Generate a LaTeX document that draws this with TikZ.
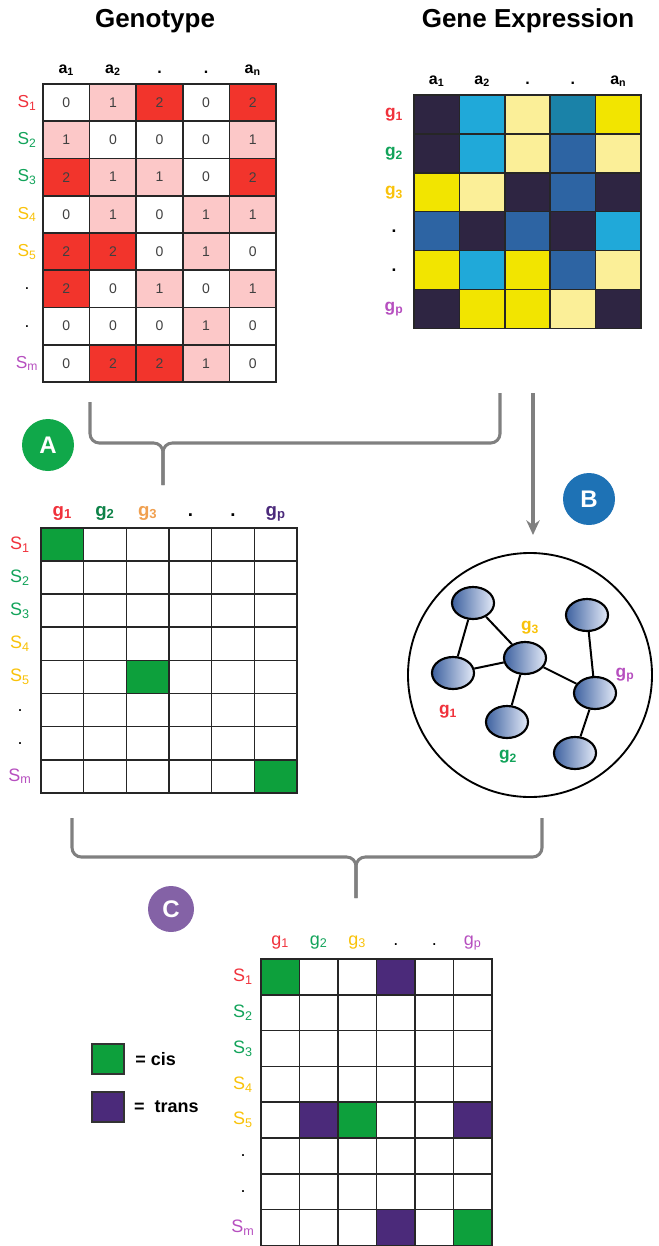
\documentclass[tikz,border=0pt]{standalone}
\usepackage{fontspec}
\setmainfont{Liberation Sans}
\usepackage{tikz}
\usetikzlibrary{arrows.meta, positioning, shapes.geometric}

\definecolor{gtpink}{RGB}{252,200,200}
\definecolor{gtred}{RGB}{242,52,44}
\definecolor{exK}{RGB}{46,37,66}
\definecolor{exL}{RGB}{32,169,217}
\definecolor{exP}{RGB}{251,239,152}
\definecolor{exY}{RGB}{242,229,0}
\definecolor{exT}{RGB}{26,130,168}
\definecolor{exM}{RGB}{45,100,163}
\definecolor{labred}{RGB}{240,50,60}
\definecolor{labgreen}{RGB}{18,163,90}
\definecolor{labyellow}{RGB}{249,194,10}
\definecolor{labpurple}{RGB}{182,79,191}
\definecolor{laborange}{RGB}{240,160,80}
\definecolor{labdark}{RGB}{75,42,123}
\definecolor{cisgreen}{RGB}{13,160,60}
\definecolor{transpurple}{RGB}{75,42,122}
\definecolor{badgeA}{RGB}{16,168,74}
\definecolor{badgeB}{RGB}{30,114,181}
\definecolor{badgeC}{RGB}{132,98,166}
\definecolor{bracegray}{RGB}{128,128,128}
\definecolor{nodeblue}{RGB}{62,98,160}
\definecolor{nodelight}{RGB}{228,234,248}

\newcommand{\sublab}[2]{#1\textsubscript{#2}}

\tikzset{
  cell/.style={draw=black!85, line width=1.2pt, inner sep=0pt, text=black!75,
    font=\fontsize{10.5}{12}\selectfont},
  gtcell/.style={cell, minimum width=34.95pt, minimum height=27.94pt},
  gt0/.style={gtcell, fill=white},
  gt1/.style={gtcell, fill=gtpink},
  gt2/.style={gtcell, fill=gtred},
  excell/.style={cell, minimum width=34.05pt, minimum height=29.2pt},
  acell/.style={cell, minimum width=32pt, minimum height=24.8pt, fill=white},
  ccell/.style={cell, minimum width=28.9pt, minimum height=26.85pt, fill=white},
  title/.style={anchor=base, font=\bfseries\fontsize{19.5}{22}\selectfont},
  colhead/.style={anchor=base, inner sep=0pt},
  rowhead/.style={inner sep=0pt},
  badge/.style={circle, minimum size=39pt, inner sep=0pt, text=white,
    font=\bfseries\fontsize{18}{18}\selectfont},
  brace/.style={draw=bracegray, line width=2.3pt, rounded corners=7pt},
  flow/.style={draw=bracegray, line width=2.3pt, -{Stealth[length=11pt,width=10pt]}},
  netring/.style={circle, draw, line width=1.4pt, minimum size=183pt, inner sep=0pt},
  gene/.style={ellipse, draw, line width=1.6pt, minimum width=31.5pt, minimum height=24pt,
    left color=nodeblue, right color=nodelight, inner sep=0pt},
  link/.style={line width=1.5pt},
  legsq/.style={draw=black!80, line width=0.8pt, minimum width=24pt, minimum height=22.5pt, inner sep=0pt},
  legtext/.style={font=\bfseries\fontsize{13.5}{15}\selectfont, inner sep=0pt}
}

\begin{document}
\begin{tikzpicture}[x=0.75pt, y=-0.75pt]
  \useasboundingbox (0,0) rectangle (659,1246);

  % Titles:
  \node[title] (t-gt) at (155,27) {Genotype};
  \node[title] (t-ex) at (528,27) {Gene Expression};

  % Genotype matrix:
  \foreach \r/\vals in {1/{0,1,2,0,2}, 2/{1,0,0,0,1}, 3/{2,1,1,0,2}, 4/{0,1,0,1,1},
                        5/{2,2,0,1,0}, 6/{2,0,1,0,1}, 7/{0,0,0,1,0}, 8/{0,2,2,1,0}}
    \foreach \v [count=\c] in \vals
      \node[gt\v] (gt-\r-\c) at ({43+46.6*(\c-0.5)}, {84+37.25*(\r-0.5)}) {\v};
  \foreach \t [count=\c] in {\sublab{a}{1}, \sublab{a}{2}, ., ., \sublab{a}{n}}
    \node[colhead, font=\bfseries\fontsize{12}{14}\selectfont] (gt-h\c) at ({43+46.6*(\c-0.5)}, 73) {\t};
  \foreach \t/\col [count=\r] in {\sublab{S}{1}/labred, \sublab{S}{2}/labgreen, \sublab{S}{3}/labgreen,
                                  \sublab{S}{4}/labyellow, \sublab{S}{5}/labyellow, ./black, ./black,
                                  \sublab{S}{m}/labpurple}
    \node[rowhead, text=\col, font=\fontsize{13}{14}\selectfont] (gt-s\r) at (27, {84+37.25*(\r-0.5)}) {\t};

  % Gene expression matrix:
  \foreach \r/\vals in {1/{K,L,P,T,Y}, 2/{K,L,P,M,P}, 3/{Y,P,K,M,K},
                        4/{M,K,M,K,L}, 5/{Y,L,Y,M,P}, 6/{K,Y,Y,P,K}}
    \foreach \v [count=\c] in \vals
      \node[excell, fill=ex\v] (ex-\r-\c) at ({414+45.4*(\c-0.5)}, {95+38.9*(\r-0.5)}) {};
  \foreach \t [count=\c] in {\sublab{a}{1}, \sublab{a}{2}, ., ., \sublab{a}{n}}
    \node[colhead, font=\bfseries\fontsize{12}{14}\selectfont] (ex-h\c) at ({414+45.4*(\c-0.5)}, 84) {\t};
  \foreach \t/\col [count=\r] in {\sublab{g}{1}/labred, \sublab{g}{2}/labgreen, \sublab{g}{3}/labyellow,
                                  ./black, ./black, \sublab{g}{p}/labpurple}
    \node[rowhead, text=\col, font=\bfseries\fontsize{13}{14}\selectfont] (ex-g\r) at (394, {95+38.9*(\r-0.5)}) {\t};

  % Brace A and arrow B:
  \coordinate (brA-l) at (90,402);
  \coordinate (brA-r) at (500,393);
  \coordinate (brA-m) at (163,443);
  \coordinate (brA-tip) at (163,485);
  \draw[brace] (brA-l) |- (brA-m) -- (brA-tip);
  \draw[brace] (brA-r) |- (brA-m) -- (brA-tip);
  \coordinate (ex-out) at (533,393);
  \coordinate (net-in) at (533,535);
  \draw[flow] (ex-out) -- (net-in);
  \node[badge, fill=badgeA] (bA) at (48,445) {A};
  \node[badge, fill=badgeB] (bB) at (589,499) {B};

  % Matrix A (cis):
  \foreach \r in {1,...,8}
    \foreach \c in {1,...,6}
      \node[acell] (a-\r-\c) at ({41+42.67*(\c-0.5)}, {528+33.1*(\r-0.5)}) {};
  \node[acell, fill=cisgreen] (a-cis1) at (a-1-1) {};
  \node[acell, fill=cisgreen] (a-cis2) at (a-5-3) {};
  \node[acell, fill=cisgreen] (a-cis3) at (a-8-6) {};
  \foreach \t/\col [count=\c] in {\sublab{g}{1}/labred, \sublab{g}{2}/labgreen!80!black, \sublab{g}{3}/laborange,
                                  ./black, ./black, \sublab{g}{p}/labdark}
    \node[colhead, text=\col, font=\bfseries\fontsize{14}{16}\selectfont] (a-h\c) at ({41+42.67*(\c-0.5)}, 516) {\t};
  \foreach \t/\col [count=\r] in {\sublab{S}{1}/labred, \sublab{S}{2}/labgreen, \sublab{S}{3}/labgreen,
                                  \sublab{S}{4}/labyellow, \sublab{S}{5}/labyellow, ./black, ./black,
                                  \sublab{S}{m}/labpurple}
    \node[rowhead, text=\col, font=\fontsize{13.5}{15}\selectfont] (a-s\r) at (20, {528+33.1*(\r-0.5)}) {\t};

  % Network:
  \node[netring] (net) at (530,675) {};
  \node[gene] (n1) at (473,603) {};
  \node[gene] (n2) at (453,673) {};
  \node[gene] (n3) at (525,658) {};
  \node[gene] (n4) at (507,722) {};
  \node[gene] (n5) at (587,615) {};
  \node[gene] (n6) at (595,693) {};
  \node[gene] (n7) at (575,753) {};
  \draw[link] (n1) -- (n2);
  \draw[link] (n1) -- (n3);
  \draw[link] (n2) -- (n3);
  \draw[link] (n3) -- (n4);
  \draw[link] (n3) -- (n6);
  \draw[link] (n5) -- (n6);
  \draw[link] (n6) -- (n7);
  \node[text=labred, font=\bfseries\fontsize{13}{14}\selectfont] (l-g1) at (448,712) {\sublab{g}{1}};
  \node[text=labgreen, font=\bfseries\fontsize{13}{14}\selectfont] (l-g2) at (508,757) {\sublab{g}{2}};
  \node[text=labyellow, font=\bfseries\fontsize{13}{14}\selectfont] (l-g3) at (530,628) {\sublab{g}{3}};
  \node[text=labpurple, font=\bfseries\fontsize{13}{14}\selectfont] (l-gp) at (625,675) {\sublab{g}{p}};

  % Brace C:
  \coordinate (brC-l) at (72,818);
  \coordinate (brC-r) at (542,818);
  \coordinate (brC-m) at (356,857);
  \coordinate (brC-tip) at (356,898);
  \draw[brace] (brC-l) |- (brC-m) -- (brC-tip);
  \draw[brace] (brC-r) |- (brC-m) -- (brC-tip);
  \node[badge, fill=badgeC, minimum size=34.5pt] (bC) at (171,909) {C};

  % Matrix C (cis and trans):
  \foreach \r in {1,...,8}
    \foreach \c in {1,...,6}
      \node[ccell] (c-\r-\c) at ({261+38.5*(\c-0.5)}, {959+35.8*(\r-0.5)}) {};
  \node[ccell, fill=cisgreen] (c-cis1) at (c-1-1) {};
  \node[ccell, fill=cisgreen] (c-cis2) at (c-5-3) {};
  \node[ccell, fill=cisgreen] (c-cis3) at (c-8-6) {};
  \node[ccell, fill=transpurple] (c-tr1) at (c-1-4) {};
  \node[ccell, fill=transpurple] (c-tr2) at (c-5-2) {};
  \node[ccell, fill=transpurple] (c-tr3) at (c-5-6) {};
  \node[ccell, fill=transpurple] (c-tr4) at (c-8-4) {};
  \foreach \t/\col [count=\c] in {\sublab{g}{1}/labred, \sublab{g}{2}/labgreen, \sublab{g}{3}/labyellow,
                                  ./black, ./black, \sublab{g}{p}/labpurple}
    \node[colhead, text=\col, font=\fontsize{13.5}{15}\selectfont] (c-h\c) at ({261+38.5*(\c-0.5)}, 945) {\t};
  \foreach \t/\col [count=\r] in {\sublab{S}{1}/labred, \sublab{S}{2}/labgreen, \sublab{S}{3}/labgreen,
                                  \sublab{S}{4}/labyellow, \sublab{S}{5}/labyellow, ./black, ./black,
                                  \sublab{S}{m}/labpurple}
    \node[rowhead, text=\col, font=\fontsize{13.5}{15}\selectfont] (c-s\r) at (243, {959+35.8*(\r-0.5)}) {\t};

  % Legend:
  \node[legsq, fill=cisgreen] (leg-cis) at (108,1059) {};
  \node[legsq, fill=transpurple] (leg-trans) at (108,1107) {};
  \node[legtext, anchor=west, right=8pt of leg-cis] (leg-cis-t) {= cis};
  \node[legtext, anchor=west, right=7pt of leg-trans] (leg-trans-t) {=\ \ trans};
\end{tikzpicture}
\end{document}
